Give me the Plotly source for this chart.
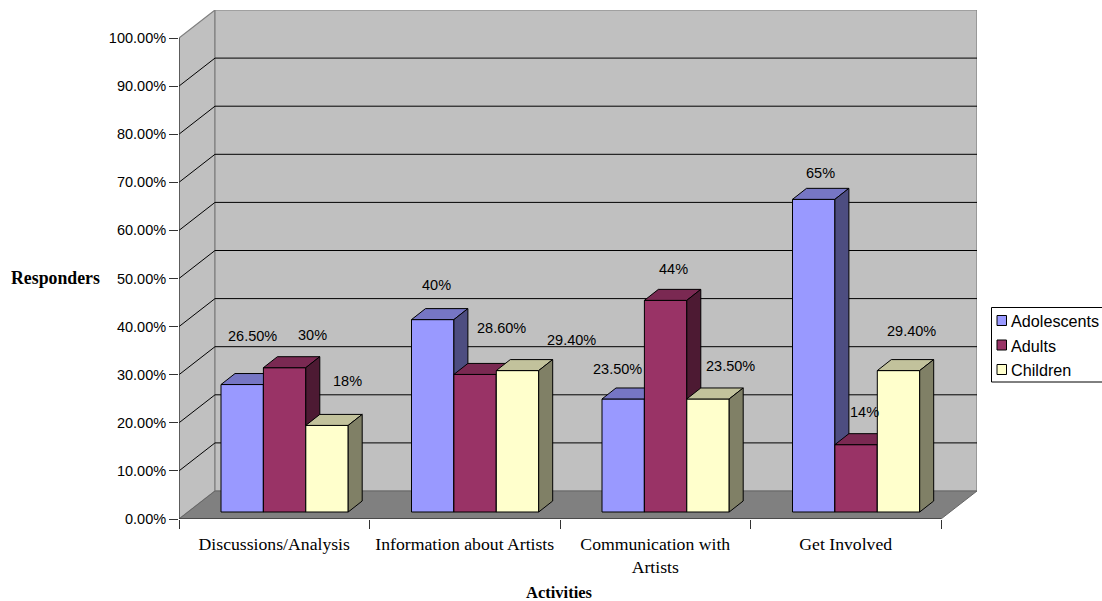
import plotly.graph_objects as go

# ---------- data ----------
CATEGORIES = ["Discussions/Analysis", "Information about Artists",
              "Communication with<br>Artists", "Get Involved"]
SERIES = ["Adolescents", "Adults", "Children"]
ADOLESCENTS = [26.5, 40, 23.5, 65]
ADULTS = [30, 28.6, 44, 14]
CHILDREN = [18, 29.4, 23.5, 29.4]
ADOLESCENTS_TEXT = ["26.50%", "40%", "23.50%", "65%"]
ADULTS_TEXT = ["30%", "28.60%", "44%", "14%"]
CHILDREN_TEXT = ["18%", "29.40%", "23.50%", "29.40%"]
Y_TICKS = [0, 10, 20, 30, 40, 50, 60, 70, 80, 90, 100]

# ---------- layout constants (pixels) ----------
W, H = 1102, 601
L, R, T, B = 179, 977, 10, 519        # plot box
BAND = 190.5                          # px per category
PCT = 4.81                            # px per percent
X_MAX = (R - L) / BAND
Y_MAX = (B - T) / PCT
WALL_X, WALL_Y = 36 / BAND, 28 / PCT  # depth of the floor
BAR_X0 = 42 / BAND                    # first bar's left edge inside a band
BAR_W = 42.4 / BAND
BAR_BASE = 7 / PCT                    # bars stand a little back on the floor
DEPTH_X, DEPTH_Y = 14 / BAND, 11 / PCT

FRONT = ["#9999FF", "#993366", "#FFFFCC"]
TOP = ["#7676C4", "#7A2952", "#C2C29C"]
SIDE = ["#4D4D80", "#4D1A33", "#808066"]

# label offsets from each bar's top centre (pixels)
LABEL_DX = [[10, 4, -6, 7], [28, 26, 8, 8], [20, 54, 22, 13]]
LABEL_DY = [[49, 35, 30, 26], [33, 46, 31, 33], [44, 31, 33, 40]]

VALUES = [ADOLESCENTS, ADULTS, CHILDREN]
TEXTS = [ADOLESCENTS_TEXT, ADULTS_TEXT, CHILDREN_TEXT]


def px(x):
    return (x - L) / (R - L)


def py(y):
    return (B - y) / (B - T)


def path(points):
    return "M" + "L".join(f"{x},{y}" for x, y in points) + "Z"


fig = go.Figure()
shapes = []
annotations = []

# walls and floor
WALL = "#C0C0C0"
EDGE = "#808080"
shapes.append(dict(type="path", layer="below", xref="x", yref="y", fillcolor=WALL,
                   line=dict(color=EDGE, width=1.2),
                   path=path([(0, 0), (WALL_X, WALL_Y), (WALL_X, 100 + WALL_Y), (0, 100)])))
shapes.append(dict(type="path", layer="below", xref="x", yref="y", fillcolor=WALL,
                   line=dict(color=EDGE, width=1.2),
                   path=path([(WALL_X, WALL_Y), (4 + WALL_X, WALL_Y),
                              (4 + WALL_X, 100 + WALL_Y), (WALL_X, 100 + WALL_Y)])))
shapes.append(dict(type="path", layer="below", xref="x", yref="y", fillcolor="#808080",
                   line=dict(color="#666666", width=1),
                   path=path([(0, 0), (4, 0), (4 + WALL_X, WALL_Y), (WALL_X, WALL_Y)])))
for t in Y_TICKS[1:-1]:
    shapes.append(dict(type="path", layer="below", xref="x", yref="y",
                       line=dict(color="#000000", width=1),
                       path=f"M0,{t}L{WALL_X},{t + WALL_Y}L{4 + WALL_X},{t + WALL_Y}"))
# axis lines
shapes.append(dict(type="line", layer="below", xref="x", yref="y", x0=0, x1=0, y0=0, y1=100,
                   line=dict(color="#333333", width=1.2)))
shapes.append(dict(type="line", layer="below", xref="x", yref="y", x0=0, x1=4, y0=0, y1=0,
                   line=dict(color="#222222", width=1.2)))

# bars, one overlaid subplot per series so later series paint over earlier sides
for s, name in enumerate(SERIES):
    xa = "x" if s == 0 else f"x{s + 1}"
    ya = "y" if s == 0 else f"y{s + 1}"
    lefts = [c + BAR_X0 + s * BAR_W for c in range(len(CATEGORIES))]
    centres = [x + BAR_W / 2 for x in lefts]
    fig.add_trace(go.Bar(x=centres, y=VALUES[s], base=BAR_BASE, width=BAR_W, name=name,
                         marker=dict(color=FRONT[s], line=dict(color="#000000", width=1)),
                         xaxis=xa, yaxis=ya, showlegend=False))
    for x0, v in zip(lefts, VALUES[s]):
        top = v + BAR_BASE
        x1 = x0 + BAR_W
        fig.add_trace(go.Scatter(
            x=[x0, x1, x1 + DEPTH_X, x0 + DEPTH_X, x0],
            y=[top, top, top + DEPTH_Y, top + DEPTH_Y, top],
            mode="lines", fill="toself", fillcolor=TOP[s],
            line=dict(color="#000000", width=1), xaxis=xa, yaxis=ya,
            showlegend=False, hoverinfo="skip"))
        fig.add_trace(go.Scatter(
            x=[x1, x1 + DEPTH_X, x1 + DEPTH_X, x1, x1],
            y=[BAR_BASE, BAR_BASE + DEPTH_Y, top + DEPTH_Y, top, BAR_BASE],
            mode="lines", fill="toself", fillcolor=SIDE[s],
            line=dict(color="#000000", width=1), xaxis=xa, yaxis=ya,
            showlegend=False, hoverinfo="skip"))
    for c, (x, v, label) in enumerate(zip(centres, VALUES[s], TEXTS[s])):
        annotations.append(dict(x=x, y=v + BAR_BASE, xref="x", yref="y", text=label,
                                showarrow=False, xanchor="center", yanchor="middle",
                                xshift=LABEL_DX[s][c], yshift=LABEL_DY[s][c],
                                font=dict(family="Liberation Sans", size=14.5, color="#000000")))

# axis titles
annotations.append(dict(xref="paper", yref="paper", x=px(55.5), y=py(278), showarrow=False,
                        text="<b>Responders</b>",
                        font=dict(family="Liberation Serif", size=17.8, color="#000000"),
                        xanchor="center", yanchor="middle"))
annotations.append(dict(xref="paper", yref="paper", x=px(559), y=py(592), showarrow=False,
                        text="<b>Activities</b>",
                        font=dict(family="Liberation Serif", size=16.5, color="#000000"),
                        xanchor="center", yanchor="middle"))

# legend box
shapes.append(dict(type="rect", xref="paper", yref="paper", layer="above",
                   x0=px(991.5), x1=px(1103), y0=py(382), y1=py(307.5),
                   fillcolor="#FFFFFF", line=dict(color="#000000", width=1)))
for s, name in enumerate(SERIES):
    yc = 320.5 + s * 24.5
    shapes.append(dict(type="rect", xref="paper", yref="paper", layer="above",
                       x0=px(997), x1=px(1006.5), y0=py(yc + 5), y1=py(yc - 5),
                       fillcolor=FRONT[s], line=dict(color="#000000", width=1)))
    annotations.append(dict(xref="paper", yref="paper", x=px(1008.5), y=py(yc + 0.5),
                            text=name, showarrow=False, xanchor="left", yanchor="middle",
                            font=dict(family="Liberation Sans", size=16.2, color="#000000")))

hidden = dict(visible=False, fixedrange=True)
fig.update_layout(
    width=W, height=H, autosize=False,
    margin=dict(l=L, r=W - R, t=T, b=H - B, pad=0),
    paper_bgcolor="#FFFFFF", plot_bgcolor="rgba(0,0,0,0)",
    barmode="overlay", showlegend=False,
    shapes=shapes, annotations=annotations,
    xaxis=dict(range=[0, X_MAX], showgrid=False, zeroline=False, showline=False,
               tickmode="array", tickvals=[c + 0.5 for c in range(len(CATEGORIES))],
               ticktext=CATEGORIES, ticks="outside", ticklen=9, tickcolor="rgba(0,0,0,0)",
               tickfont=dict(family="Liberation Serif", size=17.7, color="#000000"),
               minor=dict(tickmode="array", tickvals=list(range(len(CATEGORIES) + 1)),
                          ticks="outside", ticklen=9, tickcolor="#333333", tickwidth=1.2,
                          showgrid=False)),
    yaxis=dict(range=[0, Y_MAX], showgrid=False, zeroline=False, showline=False,
               tickmode="array", tickvals=Y_TICKS, ticktext=[f"{t:.2f}%" for t in Y_TICKS],
               ticks="outside", ticklen=9, tickcolor="#333333", tickwidth=1.2,
               tickfont=dict(family="Liberation Sans", size=14.5, color="#000000")),
    xaxis2=dict(overlaying="x", range=[0, X_MAX], anchor="y2", **hidden),
    yaxis2=dict(overlaying="y", range=[0, Y_MAX], anchor="x2", **hidden),
    xaxis3=dict(overlaying="x", range=[0, X_MAX], anchor="y3", **hidden),
    yaxis3=dict(overlaying="y", range=[0, Y_MAX], anchor="x3", **hidden),
)

fig.write_html("out.html", config=dict(displayModeBar=False),
               post_script="document.body.style.margin='0';")
